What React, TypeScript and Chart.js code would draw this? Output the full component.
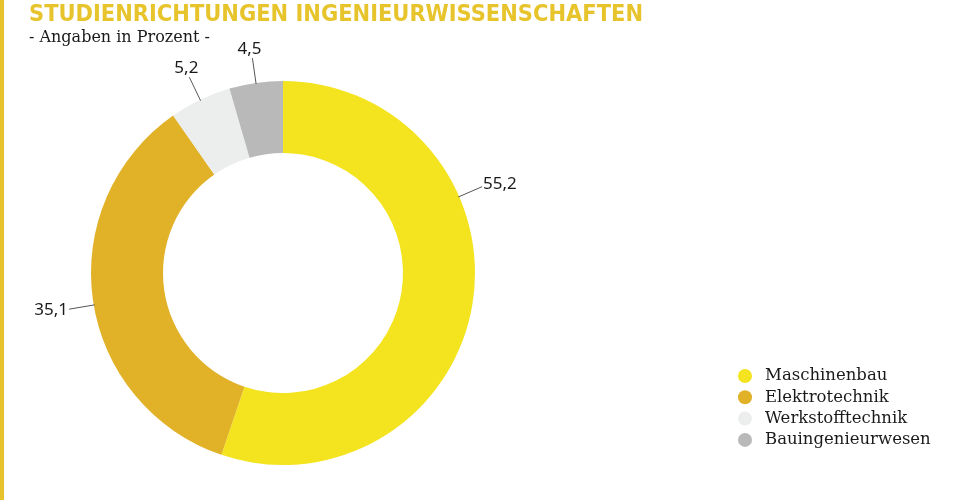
import React, { useEffect, useRef } from "react";
import { Chart, registerables } from "chart.js";

Chart.register(...registerables);

const TITLE = "STUDIENRICHTUNGEN INGENIEURWISSENSCHAFTEN";
const SUBTITLE = "- Angaben in Prozent -";
const categories = ["Maschinenbau", "Elektrotechnik", "Werkstofftechnik", "Bauingenieurwesen"];
const values = [55.2, 35.1, 5.2, 4.5];
const valueLabels = ["55,2", "35,1", "5,2", "4,5"];
const colors = ["#f4e31f", "#e1b127", "#eceeee", "#b9b9b9"];
// angular shift (degrees) of the leader line relative to the slice middle
const labelAngleShift = [-32.8, -1.5, 0, 0];

const W = 966;
const H = 503;
const ACCENT = "#e8c42c";
const SERIF = '"DejaVu Serif", serif';

const decorPlugin = {
  id: "decor",
  afterDraw(chart: any) {
    const ctx = chart.ctx;
    ctx.save();
    // left accent bar
    ctx.fillStyle = ACCENT;
    ctx.fillRect(0, 0, 4, 500);
    // title
    ctx.fillStyle = ACCENT;
    ctx.font = 'bold 23.4px "DejaVu Sans Condensed", "DejaVu Sans", sans-serif';
    ctx.textBaseline = "alphabetic";
    ctx.textAlign = "left";
    ctx.fillText(TITLE, 29, 21, 614);
    // subtitle
    ctx.fillStyle = "#1a1a1a";
    ctx.font = "16px " + SERIF;
    ctx.fillText(SUBTITLE, 29, 42);

    // value labels with leader lines
    const meta = chart.getDatasetMeta(0);
    meta.data.forEach((arc: any, i: number) => {
      const { x, y, startAngle, endAngle, outerRadius } = arc.getProps(
        ["x", "y", "startAngle", "endAngle", "outerRadius"],
        true
      );
      const a = (startAngle + endAngle) / 2 + (labelAngleShift[i] * Math.PI) / 180;
      const r1 = outerRadius - 1;
      const r2 = outerRadius + 25;
      const x1 = x + Math.cos(a) * r1;
      const y1 = y + Math.sin(a) * r1;
      const x2 = x + Math.cos(a) * r2;
      const y2 = y + Math.sin(a) * r2;
      ctx.strokeStyle = "#555";
      ctx.lineWidth = 1;
      ctx.beginPath();
      ctx.moveTo(x1, y1);
      ctx.lineTo(x2, y2);
      ctx.stroke();
      ctx.fillStyle = "#1a1a1a";
      ctx.font = '17px "Noto Sans", sans-serif';
      const c = Math.cos(a);
      if (Math.abs(c) < 0.5) {
        ctx.textAlign = "center";
        ctx.textBaseline = "bottom";
        ctx.fillText(valueLabels[i], x2 - 3, y2 - 1);
      } else if (c > 0) {
        ctx.textAlign = "left";
        ctx.textBaseline = "middle";
        ctx.fillText(valueLabels[i], x2 + 1, y2 - 3);
      } else {
        ctx.textAlign = "right";
        ctx.textBaseline = "middle";
        ctx.fillText(valueLabels[i], x2 - 1, y2 + 1);
      }
    });

    // legend
    ctx.textAlign = "left";
    ctx.textBaseline = "middle";
    ctx.font = "16.5px " + SERIF;
    categories.forEach((cat, i) => {
      const cy = 376 + i * 21.3;
      ctx.fillStyle = colors[i];
      ctx.beginPath();
      ctx.arc(745, cy, 7, 0, Math.PI * 2);
      ctx.fill();
      ctx.fillStyle = "#1a1a1a";
      ctx.fillText(cat, 765, cy);
    });
    ctx.restore();
  },
};

export default function App() {
  const ref = useRef<HTMLCanvasElement>(null);
  useEffect(() => {
    if (!ref.current) return;
    const chart = new Chart(ref.current, {
      type: "doughnut",
      data: {
        labels: categories,
        datasets: [
          {
            data: values,
            backgroundColor: colors,
            borderWidth: 0,
          },
        ],
      },
      options: {
        animation: false,
        responsive: false,
        cutout: "62.5%",
        layout: { padding: { left: 91, top: 81, right: 491, bottom: 38 } },
        plugins: {
          legend: { display: false },
          title: { display: false },
          tooltip: { enabled: false },
        },
      },
      plugins: [decorPlugin],
    });
    return () => chart.destroy();
  }, []);
  return (
    <div style={{ position: "fixed", left: 0, top: 0, width: W, height: H, background: "#fff" }}>
      <canvas ref={ref} width={W} height={H} style={{ width: W, height: H, display: "block" }} />
    </div>
  );
}
